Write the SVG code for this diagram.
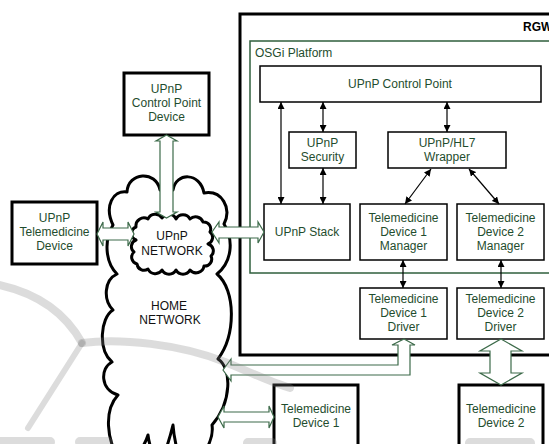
<svg xmlns="http://www.w3.org/2000/svg" width="549" height="444" viewBox="0 0 549 444">
<defs>
<style>
.t{font-family:"Liberation Sans",Arial,sans-serif;font-size:12px;fill:#1f4d2e;text-anchor:middle}
.tb{font-family:"Liberation Sans",Arial,sans-serif;font-size:12px;fill:#111;text-anchor:middle}
.box{fill:#fff;stroke:#000;stroke-width:1.5}
.tbox{fill:#fff;stroke:#000;stroke-width:3}
.blk{fill:#fff;stroke:#3d6b4a;stroke-width:1.2;stroke-linejoin:miter}
.ln{stroke:#000;stroke-width:1.2;fill:none;marker-start:url(#ah);marker-end:url(#ah)}
.cloud{fill:#fff;stroke:#000;stroke-width:3;stroke-linejoin:round}
.wm{fill:none;stroke:#808080;stroke-opacity:0.28;stroke-linecap:round}
</style>
<marker id="ah" viewBox="0 0 8 8" refX="8" refY="4" markerWidth="7" markerHeight="7" markerUnits="userSpaceOnUse" orient="auto-start-reverse">
<path d="M0,0 L8,4 L0,8 z" fill="#000"/>
</marker>
</defs>
<rect width="549" height="444" fill="#fff"/>

<g id="rgw">
<rect x="240" y="14" width="330" height="341" fill="#fff" stroke="#000" stroke-width="3"/>
<text x="523" y="31" font-family="Liberation Sans,Arial,sans-serif" font-size="12" font-weight="bold" fill="#000">RGW</text>
</g>
<g id="osgi">
<rect x="250" y="41" width="320" height="232" fill="none" stroke="#2f5f3c" stroke-width="1.5"/>
<text x="255" y="57" font-family="Liberation Sans,Arial,sans-serif" font-size="12" fill="#1f4d2e">OSGi Platform</text>
</g>

<g id="home-network">
<path class="cloud" d="M113,225 C104,206 113,190 127,192 C128,172 156,170 160,190 L173,190 C176,172 200,172 204,193 C222,190 232,208 224,224 C234,240 232,262 217,274 C236,290 236,335 218,359 C232,368 232,402 212,425 C214,438 206,452 198,460 L180,460 C177,450 174,440 173,425 C170,437 166,450 162,460 L156,460 C152,452 149,445 148,435 C145,445 138,455 130,460 L120,460 C106,440 104,410 118,395 C100,390 100,368 112,362 C98,350 100,318 113,310 C103,300 104,280 117,274 C105,262 104,240 113,225 Z"/>
<text class="tb" x="169" y="310">HOME</text>
<text class="tb" x="170" y="324">NETWORK</text>
</g>

<g id="upnp-network">
<path class="cloud" stroke-width="2.5" d="M136,227 A8,8 0 0 1 148,219 A8,8 0 0 1 162,218 A8,8 0 0 1 176,219 A8,8 0 0 1 190,219 A8,8 0 0 1 203,222 A7,7 0 0 1 210,232 A7,7 0 0 1 208,244 A7,7 0 0 1 211,256 A7,7 0 0 1 204,266 A8,8 0 0 1 190,270 A8,8 0 0 1 176,270 A8,8 0 0 1 162,270 A8,8 0 0 1 148,269 A7,7 0 0 1 137,264 A7,7 0 0 1 134,252 A7,7 0 0 1 136,240 A7,7 0 0 1 136,227 Z"/>
<text class="tb" x="172" y="240">UPnP</text>
<text class="tb" x="172" y="255">NETWORK</text>
</g>

<g id="upnp-cp-device">
<rect class="tbox" x="124" y="73" width="85" height="62"/>
<text class="t" x="166.5" y="93">UPnP</text>
<text class="t" x="166.5" y="107">Control Point</text>
<text class="t" x="166.5" y="121">Device</text>
</g>
<g id="upnp-tele-device">
<rect class="tbox" x="12" y="202" width="85" height="62"/>
<text class="t" x="54.5" y="222">UPnP</text>
<text class="t" x="54.5" y="236">Telemedicine</text>
<text class="t" x="54.5" y="250">Device</text>
</g>
<g id="upnp-control-point">
<rect class="box" x="260" y="66" width="281" height="36"/>
<text class="t" x="400" y="88">UPnP Control Point</text>
</g>
<g id="upnp-security">
<rect class="box" x="289" y="132" width="67" height="36"/>
<text class="t" x="322.5" y="147">UPnP</text>
<text class="t" x="322.5" y="161">Security</text>
</g>
<g id="wrapper">
<rect class="box" x="388" y="132" width="118" height="36"/>
<text class="t" x="447" y="147">UPnP/HL7</text>
<text class="t" x="447" y="161">Wrapper</text>
</g>
<g id="upnp-stack">
<rect class="box" x="264" y="204" width="86" height="56"/>
<text class="t" x="307" y="236">UPnP Stack</text>
</g>
<g id="manager1">
<rect class="box" x="360" y="204" width="87" height="56"/>
<text class="t" x="403.5" y="222">Telemedicine</text>
<text class="t" x="403.5" y="236">Device 1</text>
<text class="t" x="403.5" y="250">Manager</text>
</g>
<g id="manager2">
<rect class="box" x="457" y="204" width="87" height="56"/>
<text class="t" x="500.5" y="222">Telemedicine</text>
<text class="t" x="500.5" y="236">Device 2</text>
<text class="t" x="500.5" y="250">Manager</text>
</g>
<g id="driver1">
<rect class="box" x="360" y="288" width="87" height="51"/>
<text class="t" x="403.5" y="303">Telemedicine</text>
<text class="t" x="403.5" y="317">Device 1</text>
<text class="t" x="403.5" y="331">Driver</text>
</g>
<g id="driver2">
<rect class="box" x="457" y="288" width="87" height="51"/>
<text class="t" x="500.5" y="303">Telemedicine</text>
<text class="t" x="500.5" y="317">Device 2</text>
<text class="t" x="500.5" y="331">Driver</text>
</g>
<g id="tele-device1">
<rect class="tbox" x="274" y="385" width="84" height="70"/>
<text class="t" x="316" y="413">Telemedicine</text>
<text class="t" x="316" y="427">Device 1</text>
</g>
<g id="tele-device2">
<rect class="tbox" x="459" y="385" width="84" height="70"/>
<text class="t" x="501" y="413">Telemedicine</text>
<text class="t" x="501" y="427">Device 2</text>
</g>

<g id="connectors">
<line class="ln" x1="281" y1="102" x2="281" y2="204"/>
<line class="ln" x1="323" y1="102" x2="323" y2="132"/>
<line class="ln" x1="323" y1="168" x2="323" y2="204"/>
<line class="ln" x1="447" y1="102" x2="447" y2="132"/>
<line class="ln" x1="431" y1="169" x2="405" y2="204"/>
<line class="ln" x1="469" y1="169" x2="499" y2="204"/>
<line class="ln" x1="403" y1="260" x2="403" y2="288"/>
<line class="ln" x1="501" y1="260" x2="501" y2="288"/>
<path class="blk" d="M166.5,135 L177,141 L173,141 L173,212 L177,212 L166.5,218 L156,212 L160,212 L160,141 L156,141 Z"/>
<path class="blk" d="M97,234 L103,222 L103,228 L128,228 L128,222 L134,234 L128,246 L128,240 L103,240 L103,246 Z"/>
<path class="blk" d="M212,232 L219,222 L219,227 L258,227 L258,222 L264,232 L258,243 L258,238 L219,238 L219,243 Z"/>
<path class="blk" d="M223,370 L231,359 L231,365 L398,365 L398,345 L392,345 L404,339 L415,345 L410,345 L410,375 L231,375 L231,381 Z"/>
<path class="blk" d="M218,417 L224,406 L224,412 L269,412 L269,406 L274,417 L269,428 L269,422 L224,422 L224,428 Z"/>
<path class="blk" d="M501,339 L522,351 L511,351 L511,373 L522,373 L501,385 L480,373 L490,373 L490,351 L480,351 Z"/>
</g>

<g id="watermark">
<path class="wm" stroke-width="8" d="M-5,284 C35,292 65,312 82,343"/>
<path class="wm" stroke-width="6" d="M82,343 L28,428"/>
<path class="wm" stroke-width="8" d="M82,343 C120,338 180,344 225,362 C250,372 270,382 290,388"/>
<path class="wm" stroke-width="10" d="M0,442 L50,442 M80,442 L108,442 M248,443 L272,443 M470,443 L530,443"/>
</g>
</svg>
